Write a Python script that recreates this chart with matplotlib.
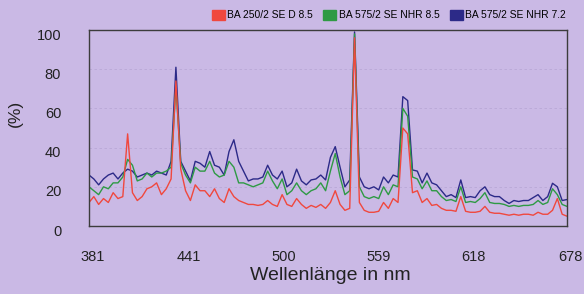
import numpy as np
import matplotlib
matplotlib.use("Agg")
import matplotlib.pyplot as plt
from matplotlib.patches import Patch
from matplotlib.transforms import ScaledTranslation

plt.rcParams['font.family'] = ['Liberation Sans', 'DejaVu Sans']

# wavelength sampling (nm)
wavelength = np.arange(381, 679, 3)

# relative intensity in %
ba250_d85 = [12, 15, 11, 14, 12, 17, 14, 15, 47, 17,
             13, 15, 19, 20, 22, 16, 19, 24, 74, 29,
             18, 13, 21, 18, 18, 15, 19, 14, 12, 19,
             15, 13, 12, 11, 11, 10.5, 11, 13, 11, 10,
             16, 11, 10, 14, 11, 9, 10.5, 9.5, 11, 9,
             12, 18, 11, 8, 9, 96, 12, 8, 7, 7,
             7.5, 12, 9, 14, 12, 50, 47, 17, 18, 12,
             14, 10.5, 11, 9, 8, 8, 7.5, 15, 7.5, 7,
             7, 7.5, 10, 7, 6.5, 6.5, 6, 5.5, 6, 5.5,
             6, 6, 5.5, 7, 6, 6, 8, 14, 6, 5]

ba575_nhr85 = [20, 18, 16, 20, 19, 22, 22, 25, 34, 31,
               23, 24, 27, 25, 27, 27, 28, 30, 71, 32,
               26, 22, 30, 28, 28, 33, 27, 25, 26, 33,
               30, 22, 22, 21, 20, 21, 22, 28, 23, 19,
               24, 16, 18, 22, 18, 16, 18, 19, 22, 18,
               28, 37, 25, 16, 18, 98, 20, 15, 14, 15,
               14, 20, 16, 21, 20, 60, 56, 25, 24, 19,
               23, 18, 18, 15, 13, 13.5, 12.5, 20, 12, 12.5,
               12, 14, 17, 12, 11.5, 11.5, 11, 10, 10.5, 10,
               10.5, 10.5, 11, 13, 11, 12, 19, 16, 11, 10]

ba575_nhr72 = [26, 24, 21, 24, 26, 27, 24, 27, 29, 28,
               25, 26, 27, 26, 28, 27, 26, 33, 81, 33,
               28, 23, 33, 32, 30, 38, 31, 30, 26, 38,
               44, 33, 28, 23, 24, 24, 25, 31, 26, 24,
               28, 20, 22, 29, 23, 21, 23.5, 24, 26, 23.5,
               35, 40.5, 30, 20, 23.5, 99, 25, 20, 19, 20,
               18.4, 25, 22, 26, 25, 66, 64, 28.6, 28, 22,
               27, 22, 21, 18, 15, 16, 14.5, 23.5, 14.5, 15,
               14.5, 18, 20, 16, 15, 15, 13, 11.5, 13, 12.5,
               13, 13, 14.5, 16, 13, 15, 21.8, 20, 13, 13.5]

labels = ["BA 250/2 SE D 8.5", "BA 575/2 SE NHR 8.5", "BA 575/2 SE NHR 7.2"]
colors = ["#f0483e", "#2e9a44", "#2c2a88"]
x_ticks = [381, 441, 500, 559, 618, 678]
y_ticks = [0, 20, 40, 60, 80, 100]

bg = "#cab9e5"
fig = plt.figure(figsize=(5.84, 2.94), dpi=100, facecolor=bg)
ax = fig.add_axes([89/584, 1 - 226/294, 478/584, 196/294], facecolor=bg)

ax.plot(wavelength, ba575_nhr72, color=colors[2], lw=1.0)
ax.plot(wavelength, ba575_nhr85, color=colors[1], lw=1.0)
ax.plot(wavelength, ba250_d85, color=colors[0], lw=1.0)

ax.set_xlim(381, 678)
ax.set_ylim(0, 100)
ax.set_xticks(x_ticks)
ax.set_yticks(y_ticks)
ax.tick_params(length=0, labelsize=10.5, colors="#222222")
ax.tick_params(axis='x', pad=17)
ax.tick_params(axis='y', pad=20)
for lab in ax.get_xticklabels():
    lab.set_transform(lab.get_transform() + ScaledTranslation(3.5/100, 0, fig.dpi_scale_trans))
for lab in ax.get_yticklabels():
    lab.set_transform(lab.get_transform() + ScaledTranslation(0, -4/100, fig.dpi_scale_trans))

ax.grid(axis='y', color="#b9a8d6", lw=0.6, ls=(0, (3, 3)))
for s in ax.spines.values():
    s.set_color("#3c3c3c")
    s.set_linewidth(1.0)

fig.text(330/584, 1 - 276/294, "Wellenlänge in nm", ha="center", va="center",
         fontsize=14, color="#222222")
fig.text(15/584, 1 - 113/294, "(%)", ha="center", va="center", rotation=90,
         fontsize=12.5, color="#222222")

handles = [Patch(facecolor=c, edgecolor=c) for c in colors]
fig.legend(handles, labels, loc="center right", bbox_to_anchor=(566/584, 1 - 15/294),
           ncol=3, frameon=False, fontsize=7.4, handlelength=1.25, handleheight=1.25,
           handletextpad=0.25, columnspacing=1.0, borderpad=0, borderaxespad=0)

fig.savefig("out.png", dpi=100, facecolor=bg)
